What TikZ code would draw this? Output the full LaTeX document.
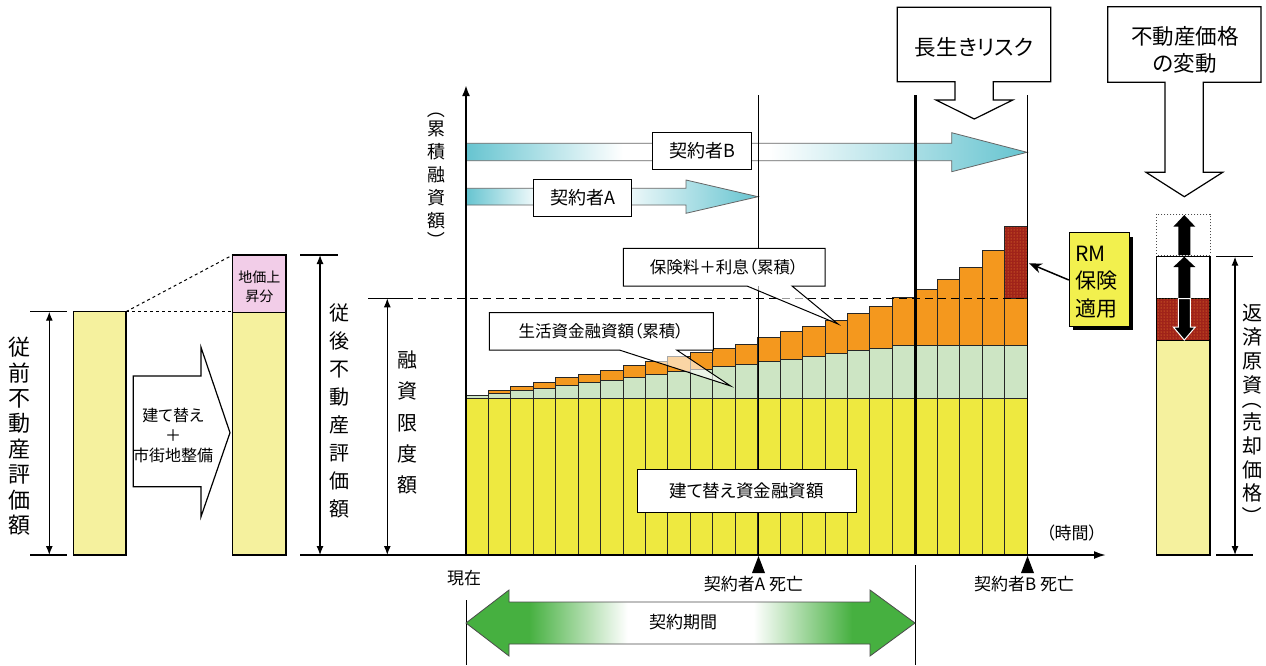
\documentclass[tikz,border=0pt]{standalone}
\usepackage{fontspec}
\setmainfont{Noto Sans CJK JP}[RawFeature=+palt]
\usetikzlibrary{arrows.meta,patterns}
\definecolor{ybar}{RGB}{238,233,64}
\definecolor{gbar}{RGB}{205,229,196}
\definecolor{obar}{RGB}{244,152,30}
\definecolor{rbar}{RGB}{160,35,25}
\definecolor{lyel}{RGB}{245,241,158}
\definecolor{lpink}{RGB}{242,205,232}
\definecolor{tl}{RGB}{102,196,208}
\definecolor{kg}{RGB}{70,176,64}
\definecolor{rmyel}{RGB}{242,240,78}
\pgfdeclarehorizontalshading{arrB}{100bp}{color(0bp)=(tl); color(25bp)=(tl); color(39bp)=(white); color(52bp)=(white); color(75bp)=(tl); color(100bp)=(tl)}
\pgfdeclarehorizontalshading{arrA}{100bp}{color(0bp)=(tl); color(25bp)=(tl); color(38bp)=(white); color(50bp)=(white); color(75bp)=(tl); color(100bp)=(tl)}
\pgfdeclarehorizontalshading{kgr}{100bp}{color(0bp)=(kg); color(25bp)=(kg); color(32bp)=(kg); color(43bp)=(white); color(57bp)=(white); color(68bp)=(kg); color(75bp)=(kg); color(100bp)=(kg)}
\newcommand{\fsz}[1]{\fontsize{#1}{#1}\selectfont}
\begin{document}
\begin{tikzpicture}[x=1pt,y=-1pt,
  bar/.style={draw=black!85, line width=1pt},
  box/.style={draw=black, fill=white, line width=1pt, inner sep=0pt},
  dim/.style={{Latex[length=9pt,width=7pt]}-{Latex[length=9pt,width=7pt]}, line width=1.2pt},
  tickl/.style={line width=1.2pt},
  vlbl/.style={inner sep=0pt, align=center},
  lbl/.style={inner sep=0pt},
  vparen/.style={inner sep=0pt, rotate=-90}
]
\useasboundingbox (0,0) rectangle (1266,665);
\fill[white] (0,0) rectangle (1266,665);

% ---------- left section ----------
\filldraw[fill=lyel, line width=1.2pt] (73.3,311.7) rectangle (126,555);
\filldraw[fill=lyel, line width=1.2pt] (232.7,312.7) rectangle (286,555);
\filldraw[fill=lpink, line width=1.2pt] (232.7,255) rectangle (286,312.7);
\node[vlbl, font={\fontsize{14}{18.5}\selectfont}] (rise) at (259.3,286.7) {地価上\\昇分};
\draw[dashed, line width=1pt] (126,311.7) -- (232.7,255);
\draw[dashed, line width=1pt] (126,311.7) -- (232.7,311.7);
\draw[line width=1.2pt, fill=white] (133.3,376) -- (201,376) -- (201,347.3) -- (230,432.7) -- (201,516.7) -- (201,486.7) -- (133.3,486.7) -- cycle;
\node[vlbl, font={\fontsize{16}{20}\selectfont}] (rebuild) at (173,435) {建て替え\\＋\\市街地整備};

\draw[tickl] (30,311.7) -- (67,311.7);
\draw[tickl] (30,555) -- (67,555);
\draw[dim] (49.3,311.7) -- (49.3,555);
\node[vlbl, font={\fontsize{22}{25.4}\selectfont}] (before) at (20,436.3) {従\\前\\不\\動\\産\\評\\価\\額};

\draw[tickl] (300,255) -- (338,255);
\draw[dim] (320,255) -- (320,555);
\node[vlbl, font={\fontsize{20}{27.9}\selectfont}] (after) at (339,410.8) {従\\後\\不\\動\\産\\評\\価\\額};

\draw[tickl] (368,298.3) -- (405,298.3);
\draw[dim] (387.3,298.3) -- (387.3,555);
\node[vlbl, font={\fontsize{20}{31.25}\selectfont}] (limit) at (407.5,422.5) {融\\資\\限\\度\\額};

\node[vparen, font=\fsz{18}] (ylo) at (436,113) {（};
\node[vlbl, font={\fontsize{18}{23}\selectfont}] (ylab) at (436,175) {累\\積\\融\\資\\額};
\node[vparen, font=\fsz{18}] (ylc) at (436,237) {）};

% ---------- bars ----------
\def\bw{22.44}
\filldraw[bar, fill=ybar] (466,398) rectangle (488.44,555);
\filldraw[bar, fill=gbar] (466,395.7) rectangle (488.44,398);
\foreach \i/\g/\o in {1/393.3/390, 2/390.7/386, 3/388/382.3, 4/385/377.7, 5/382.7/374.3, 6/380/370, 7/377/365.3, 8/374.7/361.3, 9/371.7/356.5, 10/369.3/352.7, 11/366.7/348.3, 12/364.3/344.3, 13/361.7/337.5, 14/359/331.7, 15/356/326, 16/353.3/320, 17/350.7/313.3, 18/348.3/306.7, 19/345.7/297.7, 20/345.7/289.3, 21/345.7/279, 22/345.7/267.7, 23/345.7/250, 24/345.7/298.3}{
  \pgfmathsetmacro\xa{466+\i*\bw}
  \pgfmathsetmacro\xb{\xa+\bw}
  \filldraw[bar, fill=ybar] (\xa,398) rectangle (\xb,555);
  \filldraw[bar, fill=gbar] (\xa,\g) rectangle (\xb,398);
  \filldraw[bar, fill=obar] (\xa,\o) rectangle (\xb,\g);
}
\filldraw[bar, fill=rbar] (1004.56,226.7) rectangle (1027,298.3);
\fill[pattern=dots, pattern color=orange!80] (1004.56,226.7) rectangle (1027,298.3);
\draw[bar] (1004.56,226.7) rectangle (1027,298.3);

\draw[dashed, dash pattern=on 8pt off 5pt, line width=1.2pt] (405,298.3) -- (1027,298.3);

% ---------- contract arrows ----------
\shadedraw[shading=arrB, draw=black!60, line width=0.8pt] (466,143.3) -- (951.7,143.3) -- (951.7,132.7) -- (1027,152.3) -- (951.7,171.7) -- (951.7,160.7) -- (466,160.7) -- cycle;
\shadedraw[shading=arrA, draw=black!60, line width=0.8pt] (466,188.3) -- (686,188.3) -- (686,180) -- (758,196.7) -- (686,213.3) -- (686,205) -- (466,205) -- cycle;

% ---------- vertical lines ----------
\draw[line width=1.2pt] (758.5,95) -- (758.5,555);
\draw[line width=3pt] (915,95) -- (915,555);
\draw[line width=1.2pt] (1027.5,95) -- (1027.5,555);
\draw[line width=1pt] (466,600) -- (466,665);
\draw[line width=1pt] (915,565) -- (915,665);

\node[box, minimum width=99pt, minimum height=37pt, font=\fsz{18}] (cB) at (702.2,150.8) {契約者B};
\node[box, minimum width=98.4pt, minimum height=37.4pt, font=\fsz{18}] (cA) at (582.5,198) {契約者A};

% ---------- callouts ----------
\fill[white, opacity=0.6] (747,286) -- (838,324) -- (792,286) -- cycle;
\fill[white] (623.3,248.3) rectangle (825,286);
\draw[line width=1pt] (623.3,248.3) -- (825,248.3) -- (825,286) -- (792,286) -- (838,324) -- (747,286) -- (623.3,286) -- cycle;
\node[lbl, font=\fsz{16.5}] (ins) at (724,267.5) {保険料＋利息（累積）};

\fill[white, opacity=0.6] (619.3,350) -- (730.7,386) -- (676.7,350) -- cycle;
\fill[white] (489.3,312.7) rectangle (713.3,350);
\draw[line width=1pt] (489.3,312.7) -- (713.3,312.7) -- (713.3,350) -- (676.7,350) -- (730.7,386) -- (619.3,350) -- (489.3,350) -- cycle;
\node[lbl, font=\fsz{16.5}] (life) at (601,331.5) {生活資金融資額（累積）};

\node[box, minimum width=219pt, minimum height=43pt, font=\fsz{17.5}] (rebuildloan) at (746.5,490.5) {建て替え資金融資額};

% ---------- axes ----------
\draw[line width=2.2pt, -{Latex[length=11pt,width=8pt]}] (466,556) -- (466,85);
\draw[line width=2pt, -{Latex[length=12pt,width=8pt]}] (300,555) -- (1106,555);
\node[lbl, font=\fsz{17}] (time) at (1071.7,533) {（時間）};
\node[lbl, font=\fsz{17}] (now) at (464,578) {現在};
\fill (758.5,556) -- (765,573) -- (752,573) -- cycle;
\fill (1027.5,556) -- (1034,573) -- (1021,573) -- cycle;
\node[lbl, font=\fsz{17}] (dA) at (753.5,584) {契約者A 死亡};
\node[lbl, font=\fsz{17}] (dBl) at (1024,584) {契約者B 死亡};

\shadedraw[shading=kgr, draw=black!70, line width=0.8pt] (466,623) -- (509,590) -- (509,602) -- (870,602) -- (870,590) -- (915,623) -- (870,656) -- (870,644) -- (509,644) -- (509,656) -- cycle;
\node[lbl, font=\fsz{17}] (period) at (683,622) {契約期間};

% ---------- top-right callouts ----------
\draw[line width=1.2pt, fill=white] (897.3,7.3) -- (1050.7,7.3) -- (1050.7,81.7) -- (993.3,81.7) -- (993.3,100) -- (1012.7,100) -- (974.3,119) -- (936,100) -- (955,100) -- (955,81.7) -- (897.3,81.7) -- cycle;
\node[lbl, font=\fsz{21.5}] (long) at (974,47) {長生きリスク};

\draw[line width=1.2pt, fill=white] (1107.7,6.7) -- (1261,6.7) -- (1261,82.3) -- (1203.3,82.3) -- (1203.3,172.3) -- (1222.7,172.3) -- (1184.3,196.7) -- (1146,172.3) -- (1165,172.3) -- (1165,82.3) -- (1107.7,82.3) -- cycle;
\node[vlbl, font={\fontsize{21.5}{26.7}\selectfont}] (price) at (1185,50) {不動産価格\\の変動};

% ---------- RM box ----------
\fill[black] (1073.3,236.7) rectangle (1133.3,330);
\node[draw=black, fill=rmyel, line width=1pt, minimum width=60pt, minimum height=93.3pt, inner sep=0pt] (rm) at (1099.3,279.35) {};
\node[lbl, anchor=west, align=left, font={\fontsize{21}{27.5}\selectfont}] (rmt) at (1075,282) {RM\\保険\\適用};
\coordinate (rmtip) at (1029,263.3);
\draw[line width=1.5pt, -{Stealth[length=13pt,width=10pt]}] (rm.west |- 0,280) -- (rmtip);

% ---------- right bar ----------
\draw[dotted, line width=1pt, black!70] (1156.7,214) rectangle (1210,255);
\filldraw[fill=white, line width=1.2pt] (1156.7,256.7) rectangle (1210,298.7);
\filldraw[fill=rbar, line width=1.2pt] (1156.7,298.7) rectangle (1210,340.3);
\fill[pattern=dots, pattern color=orange!80] (1156.7,298.7) rectangle (1210,340.3);
\filldraw[fill=lyel, line width=1.2pt] (1156.7,340.3) rectangle (1210,555);
\fill[black] (1178.3,255) -- (1178.3,226.7) -- (1173.3,226.7) -- (1184.3,215) -- (1195.3,226.7) -- (1190.3,226.7) -- (1190.3,255) -- cycle;
\fill[black] (1178.3,298) -- (1178.3,267) -- (1173.3,267) -- (1184.3,256.7) -- (1195.3,267) -- (1190.3,267) -- (1190.3,298) -- cycle;
\filldraw[fill=black, draw=white, line width=1pt] (1178.3,298.7) -- (1178.3,327) -- (1173.3,327) -- (1184.3,340) -- (1195.3,327) -- (1190.3,327) -- (1190.3,298.7) -- cycle;

\draw[tickl] (1216,256.7) -- (1253,256.7);
\draw[tickl] (1216,555) -- (1253,555);
\draw[dim] (1235,256.7) -- (1235,555);
\node[vlbl, font={\fontsize{20}{23.9}\selectfont}] (repay1) at (1252,349.2) {返\\済\\原\\資};
\node[vparen, font=\fsz{20}] (rpo) at (1252,404) {（};
\node[vlbl, font={\fontsize{20}{23.9}\selectfont}] (repay2) at (1252,457.5) {売\\却\\価\\格};
\node[vparen, font=\fsz{20}] (rpc) at (1252,512) {）};
\end{tikzpicture}
\end{document}
